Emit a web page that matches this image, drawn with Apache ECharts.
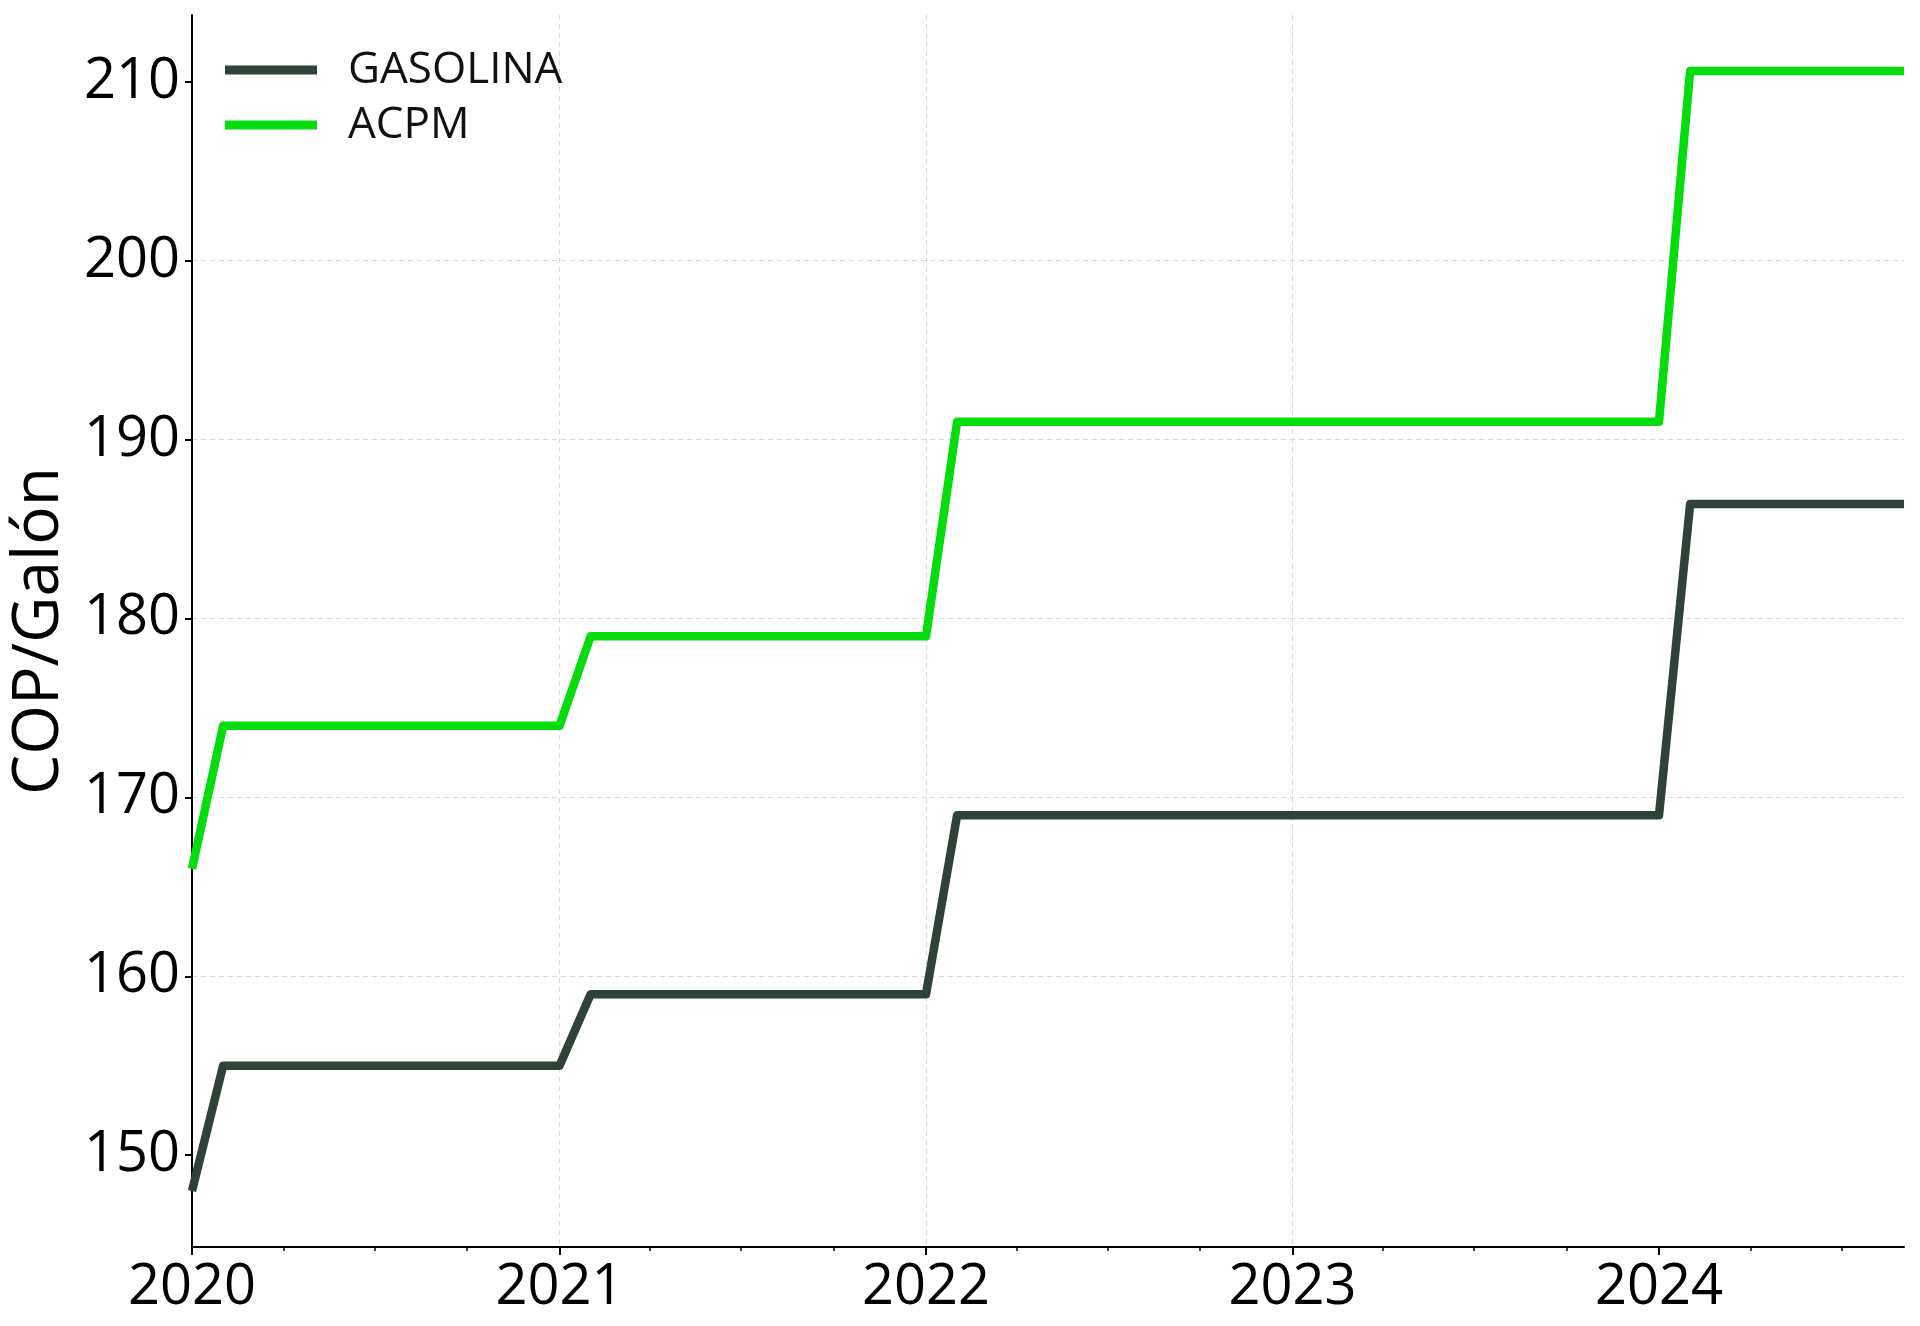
<!DOCTYPE html>
<html>
<head>
<meta charset="utf-8">
<script src="https://cdn.jsdelivr.net/npm/echarts@6/dist/echarts.min.js"></script>
<style>
html,body{margin:0;padding:0;background:#fff;}
#chart{width:1920px;height:1326px;}
</style>
</head>
<body>
<div id="chart"></div>
<script>
// ---- data ----
const startYear = 2020, startMonth = 1, monthCount = 57; // Jan 2020 .. Sep 2024
const months = [];
for (let i = 0; i < monthCount; i++) {
  const y = startYear + Math.floor((startMonth - 1 + i) / 12);
  const m = ((startMonth - 1 + i) % 12) + 1;
  months.push(y + '-' + String(m).padStart(2, '0') + '-01');
}
const gasolina = [
  148,
  155,155,155,155,155,155,155,155,155,155,155,155,
  159,159,159,159,159,159,159,159,159,159,159,159,
  169,169,169,169,169,169,169,169,169,169,169,169,
  169,169,169,169,169,169,169,169,169,169,169,169,
  186.4,186.4,186.4,186.4,186.4,186.4,186.4,186.4
];
const acpm = [
  166,
  174,174,174,174,174,174,174,174,174,174,174,174,
  179,179,179,179,179,179,179,179,179,179,179,179,
  191,191,191,191,191,191,191,191,191,191,191,191,
  191,191,191,191,191,191,191,191,191,191,191,191,
  210.6,210.6,210.6,210.6,210.6,210.6,210.6,210.6
];
const yTicks = [150, 160, 170, 180, 190, 200, 210];
const xYears = [2020, 2021, 2022, 2023, 2024];
const seriesNames = ['GASOLINA', 'ACPM'];
const colors = ['#2E4238', '#04DC0C'];

// ---- derived ----
const DAY = 86400000;
const ts = s => { const p = s.split('-'); return Date.UTC(+p[0], +p[1] - 1, +p[2]) / DAY; };
const xMin = ts(months[0]);
const xMax = ts(months[months.length - 1]);
const allVals = gasolina.concat(acpm);
const dMin = Math.min.apply(null, allVals), dMax = Math.max.apply(null, allVals);
const pad = (dMax - dMin) * 0.05;
const yMin = dMin - pad, yMax = dMax + pad;
const yearTicks = xYears.map(y => Date.UTC(y, 0, 1) / DAY);
const quarterTicks = [];
xYears.forEach(y => { [3, 6, 9].forEach(m => { const t = Date.UTC(y, m, 1) / DAY; if (t <= xMax) quarterTicks.push(t); }); });
const yearOf = v => new Date(Math.round(v) * DAY).getUTCFullYear();

const FONT = 'Open Sans';
const chart = echarts.init(document.getElementById('chart'), null, {renderer: 'canvas'});
chart.setOption({
  animation: false,
  backgroundColor: '#ffffff',
  textStyle: {fontFamily: FONT},
  grid: {left: 191, right: 16, top: 15, bottom: 79, containLabel: false},
  legend: {
    orient: 'vertical', left: 220, top: 43,
    itemWidth: 92, itemHeight: 9, itemGap: 11,
    icon: 'rect',
    textStyle: {fontFamily: FONT, fontSize: 44, color: '#111', padding: [0, 0, 0, 26]},
    data: seriesNames
  },
  xAxis: [{
    type: 'value', min: xMin, max: xMax, scale: true,
    axisLine: {show: true, onZero: false, lineStyle: {color: '#000', width: 2}},
    axisTick: {show: true, customValues: yearTicks, length: 8, lineStyle: {color: '#000', width: 2}},
    axisLabel: {show: true, customValues: yearTicks, margin: 13, fontSize: 56, fontFamily: FONT, color: '#000',
      formatter: v => String(yearOf(v)), showMinLabel: true, showMaxLabel: true, hideOverlap: false},
    splitLine: {show: true, showMinLine: false, showMaxLine: false, lineStyle: {color: '#d9d9d9', width: 1, type: [5, 4]}}
  }, {
    type: 'value', min: xMin, max: xMax, scale: true, position: 'bottom', gridIndex: 0,
    axisLine: {show: false, onZero: false},
    axisTick: {show: true, customValues: quarterTicks, length: 4, lineStyle: {color: '#000', width: 1.5}},
    axisLabel: {show: false},
    splitLine: {show: false}
  }],
  yAxis: {
    type: 'value', min: yMin, max: yMax, scale: true,
    name: 'COP/Galón', nameLocation: 'middle', nameRotate: 90, nameGap: 120,
    nameTextStyle: {fontSize: 64, fontFamily: FONT, color: '#000'},
    axisLine: {show: true, onZero: false, lineStyle: {color: '#000', width: 2}},
    axisTick: {show: true, customValues: yTicks, length: 7, lineStyle: {color: '#000', width: 2}},
    axisLabel: {show: true, customValues: yTicks, margin: 12, fontSize: 56, fontFamily: FONT, color: '#000'},
    splitLine: {show: true, showMinLine: false, showMaxLine: false, lineStyle: {color: '#d9d9d9', width: 1, type: [5, 4]}}
  },
  series: [
    {name: seriesNames[0], type: 'line', showSymbol: false, symbol: 'none', color: colors[0],
      lineStyle: {width: 8.5, color: colors[0], join: 'round'},
      data: months.map((m, i) => [ts(m), gasolina[i]])},
    {name: seriesNames[1], type: 'line', showSymbol: false, symbol: 'none', color: colors[1],
      lineStyle: {width: 8.5, color: colors[1], join: 'round'},
      data: months.map((m, i) => [ts(m), acpm[i]])}
  ]
});
</script>
</body>
</html>
